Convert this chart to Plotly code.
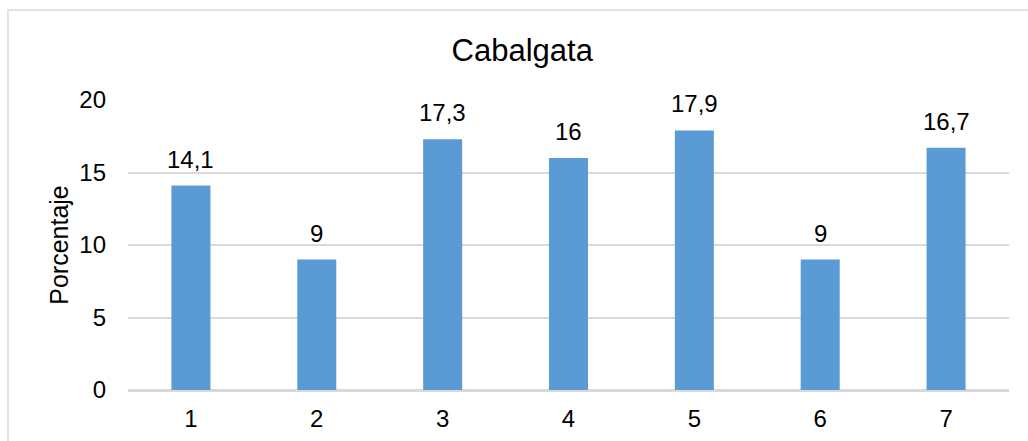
import plotly.graph_objects as go

categories = [1, 2, 3, 4, 5, 6, 7]
values = [14.1, 9, 17.3, 16, 17.9, 9, 16.7]
value_labels = ["14,1", "9", "17,3", "16", "17,9", "9", "16,7"]
y_ticks = [0, 5, 10, 15, 20]

FONT = "Liberation Sans, Arial, sans-serif"
BAR = "#5B9BD5"
GRID = "#D9D9D9"

fig = go.Figure()
fig.add_trace(go.Bar(x=categories, y=values, marker=dict(color=BAR, line=dict(width=0)),
                     hoverinfo="x+y"))

for c, v, t in zip(categories, values, value_labels):
    fig.add_annotation(x=c, y=v, text=t, showarrow=False, yanchor="bottom",
                       yshift=11, font=dict(family=FONT, size=24, color="#000000"))

fig.update_layout(
    width=1028, height=441,
    margin=dict(l=128, r=19, t=100, b=51, autoexpand=False),
    paper_bgcolor="white", plot_bgcolor="white",
    bargap=0.69,
    showlegend=False,
    title=dict(text="Cabalgata", x=0.508, xref="container",
               y=1 - 50 / 441, yref="container", xanchor="center", yanchor="middle",
               font=dict(family=FONT, size=31, color="#000000")),
    font=dict(family=FONT, color="#000000"),
    xaxis=dict(range=[0.5, 7.5], tickvals=categories, ticktext=[str(c) for c in categories],
               showgrid=False, showline=True, linecolor=GRID, linewidth=1.5, zeroline=False,
               ticks="", tickfont=dict(family=FONT, size=24, color="#000000"),
               ticklabelstandoff=6, automargin=False),
    yaxis=dict(range=[0, 20], tickvals=y_ticks, showgrid=True, gridcolor=GRID, gridwidth=1.5,
               zeroline=True, zerolinecolor=GRID, zerolinewidth=1.5, showline=False, ticks="",
               tickfont=dict(family=FONT, size=24, color="#000000"), ticklabelstandoff=21,
               automargin=False,
               title=dict(text="Porcentaje", font=dict(family=FONT, size=25, color="#000000"),
                          standoff=3)),
)

fig.add_shape(type="rect", xref="paper", yref="paper", x0=(8 - 128) / 881, x1=1.2,
              y0=-0.5, y1=(390 - 10) / 290, line=dict(color=GRID, width=1.5),
              fillcolor="rgba(0,0,0,0)", layer="below")

fig.write_html("out.html", config={"displayModeBar": False},
               post_script="document.body.style.margin='0';document.body.style.overflow='hidden';")
